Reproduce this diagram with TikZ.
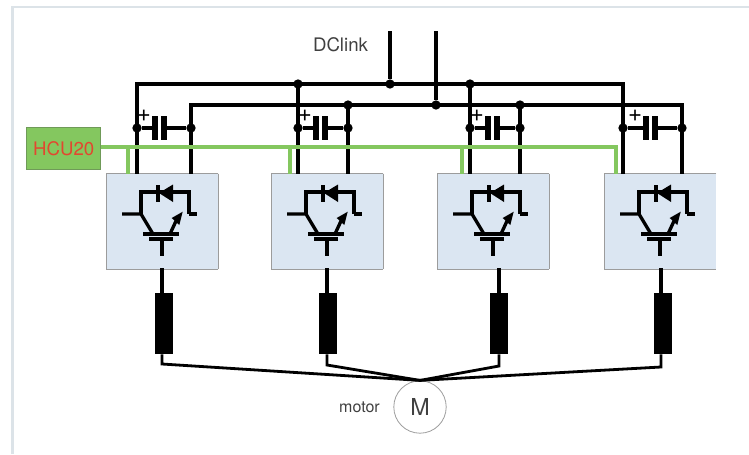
\documentclass[tikz,border=0pt]{standalone}
\usepackage{fontspec}
\setmainfont{TeX Gyre Heros}
\usetikzlibrary{calc}
\definecolor{framegray}{HTML}{DCE3E8}
\definecolor{boxblue}{HTML}{DBE6F2}
\definecolor{boxedge}{HTML}{9C9C9C}
\definecolor{ctrlgreen}{HTML}{84C75F}
\definecolor{hcuedge}{HTML}{6F9A58}
\definecolor{hcutext}{HTML}{E2472F}
\definecolor{labeltext}{HTML}{404040}
\tikzset{
    wire/.style={line width=2.6pt, color=black},
    thinwire/.style={line width=2.1pt, color=black, line join=miter},
    ctrl/.style={line width=2.5pt, color=ctrlgreen},
    jdot/.style={circle, fill=black, inner sep=0pt, minimum size=7pt},
    plate/.style={rectangle, fill=black, inner sep=0pt, minimum width=4pt, minimum height=18.5pt},
    coil/.style={rectangle, fill=black, inner sep=0pt, minimum width=13.5pt, minimum height=45.75pt},
    igbtbox/.style={rectangle, fill=boxblue, inner sep=0pt, minimum width=83.25pt, minimum height=71.25pt},
    igbt/.pic={
        \draw[line width=2.5pt, line join=miter] (34,40) -- (34,18) -- (82,18) -- (82,40);
        \draw[line width=2.5pt] (15,40) -- (34,40) -- (46,60);
        \draw[line width=2.5pt] (82,40) -- (90,40);
        \draw[line width=2.5pt] (36,60) -- (72,60);
        \draw[line width=2.5pt] (42,65) -- (66,65);
        \draw[line width=2.5pt] (55,65) -- (55,82);
        \draw[line width=2.5pt] (63,60) -- (69,47);
        \fill (75.7,37.7) -- (64.7,44) -- (72.3,51) -- cycle;
        \fill (52,19) -- (66,10.5) -- (66,28) -- cycle;
        \draw[line width=2.8pt] (51,11) -- (51,28);
    }
}

\begin{document}
\begin{tikzpicture}[x=0.75pt, y=-0.75pt]
    \useasboundingbox (0,0) rectangle (749,454);
    \draw[line width=1.7pt, color=framegray] (12.5,454) -- (12.5,7) -- (749,7);

    \foreach \i/\bx/\px/\mx/\gx/\cx/\wx/\lx in {
        1/107/137/191/128/155/162/164,
        2/272/298/348/290/316/327/328,
        3/438/470/520/462/488/499/499,
        4/605/623/682/616/646/661/663}
    {
        \node[igbtbox] (box\i) at ({\bx+55.5},221.5) {};
        \draw[line width=0.8pt, color=boxedge] (box\i.north east) -- (box\i.north west) -- (box\i.south west) -- (box\i.south east);
        \pic at (\bx,174) {igbt};
        \coordinate (tp\i) at (\px,84);
        \coordinate (tm\i) at (\mx,105);
        \coordinate (bp\i) at (\px,174);
        \coordinate (bm\i) at (\mx,174);
        \coordinate (g\i) at (\gx,147);
        \coordinate (gb\i) at (\gx,174);
        \node[jdot] (cp\i) at (\px,128) {};
        \node[jdot] (cm\i) at (\mx,128) {};
        \node[plate] (pa\i) at (\cx,128) {};
        \node[plate] (pb\i) at ({\cx+9},128) {};
        \node (plus\i) at ({\cx-11},115.5) {\fontsize{18}{18}\selectfont +};
        \draw[wire] (tp\i) -- (bp\i);
        \draw[wire] (tm\i) -- (bm\i);
        \draw[wire] (cp\i) -- (pa\i);
        \draw[wire] (pb\i) -- (cm\i);
        \coordinate (out\i) at (\wx,268);
        \coordinate (low\i) at (\wx,{363+\i});
        \node[coil] (ind\i) at (\lx,323.5) {};
        \draw[wire] (out\i) -- (out\i |- ind\i.north);
    }
    \foreach \i in {1,2,3}
        \draw[line width=0.8pt, color=boxedge] (box\i.north east) -- (box\i.south east);

    \draw[wire, line cap=rect] (tp1) -- (tp4);
    \draw[wire, line cap=rect] (tm1) -- (tm4);
    \node[jdot] (top2) at (tp2) {};
    \node[jdot] (top3) at (tp3) {};
    \node[jdot] (neg2) at (tm2) {};
    \node[jdot] (neg3) at (tm3) {};
    \node[jdot] (dcp) at (390,84) {};
    \node[jdot] (dcm) at (436,105) {};
    \coordinate (dcpend) at (390,31);
    \coordinate (dcmend) at (436,31);
    \draw[wire] (dcpend) -- (dcp);
    \draw[wire] (dcmend) -- (dcm);
    \node[color=labeltext] (dclabel) at (340.5,45) {\fontsize{14}{14}\selectfont DClink};

    \node[rectangle, draw=hcuedge, line width=0.8pt, fill=ctrlgreen, inner sep=0pt, minimum width=55.5pt, minimum height=32pt, text=hcutext] (hcu) at (63.7,148.4) {\fontsize{14}{14}\selectfont HCU20};
    \draw[ctrl] (hcu.east |- g1) -- (g4) -- (gb4);
    \foreach \i in {1,2,3}
        \draw[ctrl] (g\i) -- (gb\i);

    \node[circle, draw=boxedge, line width=0.6pt, inner sep=0pt, minimum size=39.3pt, text=labeltext] (mot) at (420,407) {\fontsize{17.5}{17.5}\selectfont M};
    \node[color=labeltext, anchor=base] (motlabel) at (359.5,412.5) {\fontsize{12}{12}\selectfont motor};
    \foreach \i in {1,2,3,4}
        \draw[thinwire] (out\i |- ind\i.south) -- (low\i) -- (mot.north);
\end{tikzpicture}
\end{document}
